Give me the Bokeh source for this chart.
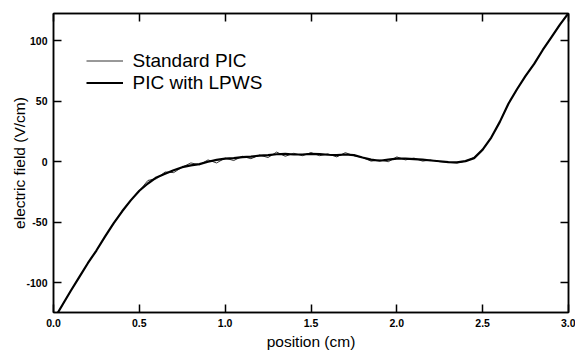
from bokeh.plotting import figure
from bokeh.models import (Range1d, LinearAxis, FixedTicker, PrintfTickFormatter,
                          CustomJSTickFormatter, Legend, LegendItem)
from bokeh.embed import file_html
from bokeh.resources import INLINE

# ---- data ----
position = [0.00, 0.05, 0.10, 0.15, 0.20, 0.25, 0.30, 0.35, 0.40, 0.45,
            0.50, 0.55, 0.60, 0.65, 0.70, 0.75, 0.80, 0.85, 0.90, 0.95,
            1.00, 1.05, 1.10, 1.15, 1.20, 1.25, 1.30, 1.35, 1.40, 1.45,
            1.50, 1.55, 1.60, 1.65, 1.70, 1.75, 1.80, 1.85, 1.90, 1.95,
            2.00, 2.05, 2.10, 2.15, 2.20, 2.25, 2.30, 2.35, 2.40, 2.45,
            2.50, 2.55, 2.60, 2.65, 2.70, 2.75, 2.80, 2.85, 2.90, 2.95, 3.00]

standard_pic = [-131, -119, -107, -95.5, -84, -73.5, -62, -51, -41, -32,
                -24, -15.5, -14, -8.5, -9, -4.5, -1, -2.5, 1.5, -1,
                3, 1, 4.5, 2.5, 5.5, 3.5, 8, 4.5, 7, 5,
                7.5, 5, 6.5, 4, 7.5, 5, 3.5, 0.5, 1.5, 0,
                4, 1.5, 3, 0.5, 1.5, 0, -0.5, -1, 0.5, 3.5,
                10, 20, 33, 48, 60, 71, 81, 92.5, 103, 113.5, 123]

pic_lpws = [-131, -119, -107, -95.5, -84, -73.5, -62, -51, -41, -32,
            -24, -18, -13, -10, -7, -4.5, -3, -2, 0, 1.5,
            2.5, 3, 3.8, 4.3, 5, 5.5, 6.2, 6.5, 6, 6,
            6.5, 6.3, 5.8, 5.5, 6, 5.5, 3.5, 1.8, 0.8, 1.8,
            2.6, 2.6, 2.2, 1.8, 1, 0.4, -0.3, -0.6, 0.5, 3,
            10, 20, 33, 48, 60, 71, 81, 92.5, 103, 113.5, 123]

x_ticks = [0.0, 0.5, 1.0, 1.5, 2.0, 2.5, 3.0]
y_ticks = [-100, -50, 0, 50, 100]
series_labels = ["Standard PIC", "PIC with LPWS"]

FONT = "Liberation Sans"

p = figure(width=575, height=352, output_backend="svg", toolbar_location=None,
           x_range=Range1d(0, 3.0), y_range=Range1d(-124.8, 122.7),
           min_border_left=53, min_border_right=7, min_border_top=13,
           min_border_bottom=39, background_fill_color="white",
           border_fill_color="white")

p.xgrid.visible = False
p.ygrid.visible = False
p.outline_line_color = "black"
p.outline_line_width = 1.5

r_std = p.line(position, standard_pic, line_width=1, line_color="#333333")
r_lpws = p.line(position, pic_lpws, line_width=2.2, line_color="black")


def style_axis(ax, ticks, fmt):
    ax.ticker = FixedTicker(ticks=ticks)
    ax.formatter = PrintfTickFormatter(format=fmt)
    ax.major_tick_in = 8
    ax.major_tick_out = 0
    ax.minor_tick_in = 0
    ax.minor_tick_out = 0
    ax.major_tick_line_width = 1.5
    ax.major_tick_line_color = "black"
    ax.axis_line_color = "black"
    ax.axis_line_width = 1.5
    ax.major_label_text_font = FONT
    ax.major_label_text_font_style = "bold"
    ax.major_label_text_font_size = "10.5px"
    ax.major_label_text_color = "black"
    ax.axis_label_text_font = FONT
    ax.axis_label_text_font_style = "normal"
    ax.axis_label_text_font_size = "15.5px"
    ax.axis_label_text_color = "black"


xa = p.xaxis[0]
ya = p.yaxis[0]
style_axis(xa, x_ticks, "%.1f")
style_axis(ya, y_ticks, "%d")
xa.axis_label = "position (cm)"
ya.axis_label = "electric field (V/cm)"
xa.major_label_standoff = 6
ya.major_label_standoff = 6
xa.axis_label_standoff = 3
ya.axis_label_standoff = -5

# mirrored tick marks on top and right (no labels)
top = LinearAxis()
right = LinearAxis()
style_axis(top, x_ticks, "%.1f")
style_axis(right, y_ticks, "%d")
for ax in (top, right):
    ax.formatter = CustomJSTickFormatter(code="return ''")
    ax.major_label_standoff = 0
p.add_layout(top, "above")
p.add_layout(right, "right")

legend = Legend(items=[LegendItem(label=series_labels[0], renderers=[r_std]),
                       LegendItem(label=series_labels[1], renderers=[r_lpws])],
                location=(32.5, 218.5), border_line_color=None,
                background_fill_alpha=0, padding=0, margin=0, spacing=0,
                label_standoff=10, glyph_width=37, glyph_height=21,
                label_height=21, label_text_font=FONT,
                label_text_font_size="19px", label_text_color="black")
p.add_layout(legend)

open("out.html", "w").write(file_html(p, INLINE))
